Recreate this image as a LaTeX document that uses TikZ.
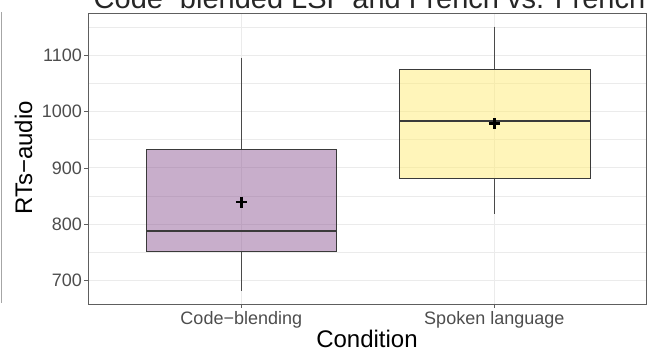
\documentclass[tikz,border=0pt]{standalone}
\usepackage{fontspec}
\setmainfont{Liberation Sans}
\definecolor{gridc}{HTML}{EBEBEB}
\definecolor{framec}{HTML}{5E5E5E}
\definecolor{tickc}{HTML}{4D4D4D}
\definecolor{boxline}{HTML}{3A3A3A}
\definecolor{whiskc}{HTML}{4A4A4A}
\definecolor{purplefill}{HTML}{915D97}
\definecolor{yellowfill}{HTML}{FFEB75}
\tikzset{
  majgrid/.style={draw=gridc, line width=1pt},
  mingrid/.style={draw=gridc, line width=0.6pt},
  frame/.style={draw=framec, line width=0.9pt},
  tickmark/.style={draw=framec, line width=0.8pt},
  ticklab/.style={text=tickc, font=\fontsize{18}{20}\selectfont, inner sep=0pt},
  axtitle/.style={text=black, font=\fontsize{24}{26}\selectfont, inner sep=0pt},
  boxbody/.style={draw=boxline, line width=1pt, fill opacity=0.5},
  medianline/.style={draw=boxline, line width=2pt},
  whisker/.style={draw=whiskc, line width=1.1pt},
  meanmark/.style={draw=black, line width=2.6pt},
}
\begin{document}
\begin{tikzpicture}[x=1pt, y=-1pt]
\useasboundingbox (0,0) rectangle (648,351);
% title (cut off at the top)
\node[axtitle, font=\fontsize{29}{31}\selectfont, text=black!85, anchor=base] (title) at (369.5,8.5) {Code−blended LSF and French vs. French};
% left stray line
\draw[draw=black!35, line width=0.9pt] (1,12) -- (1,303);
% minor grid
\foreach \yy in {26.9,83.3,139.7,196.1,252.5} \draw[mingrid] (88,\yy) -- (646,\yy);
% major grid
\foreach \yy in {55.1,111.5,167.9,224.3,280.7} \draw[majgrid] (88,\yy) -- (646,\yy);
\foreach \xx in {241.3,494.3} \draw[majgrid] (\xx,13) -- (\xx,304);
% box 1 (Code-blending)
\draw[whisker] (241.3,57.7) -- (241.3,149.3);
\draw[whisker] (241.3,251.7) -- (241.3,291);
\draw[boxbody, fill=purplefill] (146,149.3) rectangle (336.5,251.7);
\draw[medianline] (146,231) -- (336.5,231);
\draw[meanmark] (235.8,202) -- (246.8,202) (241.3,196.5) -- (241.3,207.5);
% box 2 (Spoken language)
\draw[whisker] (494.3,26.7) -- (494.3,69.7);
\draw[whisker] (494.3,178.7) -- (494.3,213.7);
\draw[boxbody, fill=yellowfill] (399.3,69.7) rectangle (590.3,178.7);
\draw[medianline] (399.3,121.3) -- (590.3,121.3);
\draw[meanmark] (488.8,123.3) -- (499.8,123.3) (494.3,117.8) -- (494.3,128.8);
% panel frame
\draw[frame] (88,13) rectangle (646,304);
% y ticks and labels
\foreach \v/\yy in {700/280.7,800/224.3,900/167.9,1000/111.5,1100/55.1}{
  \draw[tickmark] (84,\yy) -- (88,\yy);
  \node[ticklab, anchor=east] (ylab\v) at (82,\yy) {\v};
}
% x ticks and labels
\draw[tickmark] (241.3,304) -- (241.3,308);
\draw[tickmark] (494.3,304) -- (494.3,308);
\node[ticklab, anchor=base] (xlab1) at (241.3,324) {Code−blending};
\node[ticklab, anchor=base] (xlab2) at (494.3,324) {Spoken language};
% axis titles
\node[axtitle, anchor=base] (xtitle) at (367,347.5) {Condition};
\node[axtitle, rotate=90, anchor=base] (ytitle) at (32,158) {RTs−audio};
\end{tikzpicture}
\end{document}
